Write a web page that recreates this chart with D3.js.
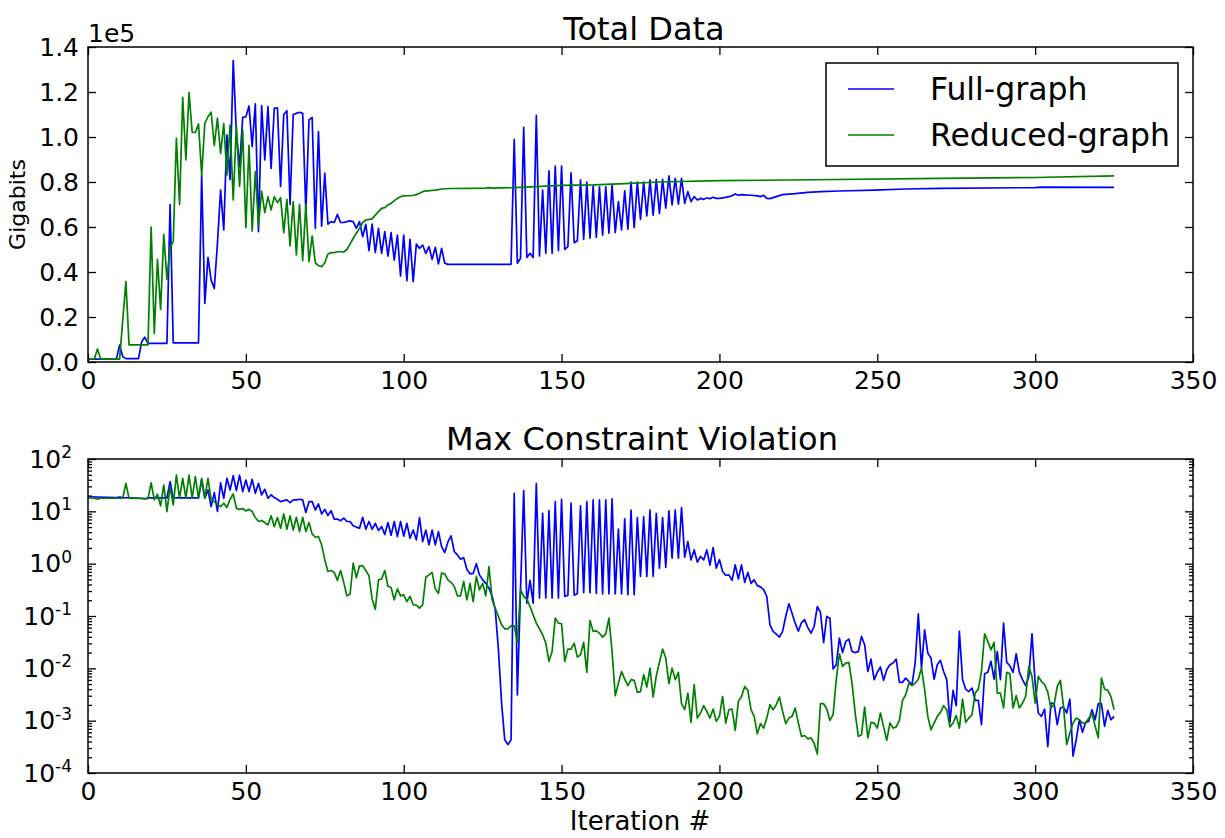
<!DOCTYPE html>
<html>
<head>
<meta charset="utf-8">
<script src="https://cdn.jsdelivr.net/npm/d3@7"></script>
<style>
  html, body { margin: 0; padding: 0; background: #fff; }
  svg { display: block; }
  text { font-family: "DejaVu Sans", sans-serif; fill: #000; }
</style>
</head>
<body>
<svg id="chart" width="1225" height="838"></svg>
<script>
// ---------------- DATA ----------------
const seriesNames = ["Full-graph", "Reduced-graph"];
const seriesColors = ["#0000ff", "#008000"];
const xTicks = [0, 50, 100, 150, 200, 250, 300, 350];
const totalTicks = [0, 20000, 40000, 60000, 80000, 100000, 120000, 140000];
const violationTicks = [1e-4, 1e-3, 1e-2, 1e-1, 1e0, 1e1, 1e2];

// Total Data (Gigabits) : [iteration, value]
const fullTotal = [[0,1300],[9,1300],[10,7500],[11,2400],[12,1500],[16,1500],[17,9000],[18,11000],[19,8300],[25,8300],[26,70000],[27,8500],[35,8500],[36,83000],[37,26000],[38,46500],[39,36400],[40,32700],[41,52700],[42,76400],[43,58700],[44,100900],[45,81000],[46,134000],[47,101600],[48,86800],[49,108700],[50,109000],[51,113800],[52,95700],[53,114700],[54,57900],[55,114000],[56,89800],[57,113500],[58,86000],[59,112700],[60,113000],[61,78000],[62,110000],[63,111700],[64,70000],[65,110000],[66,110500],[67,111000],[68,110500],[69,66800],[70,107600],[71,108700],[72,59400],[73,102400],[74,60400],[75,83900],[76,61300],[77,62400],[78,62000],[79,65600],[80,62000],[81,62000],[82,62400],[83,62700],[84,62400],[85,59400],[86,62400],[87,55700],[88,61200],[89,49500],[90,61300],[91,48600],[92,59400],[93,48300],[94,57900],[95,47100],[96,57500],[97,45300],[98,56400],[99,38200],[100,56400],[101,36100],[102,54500],[103,35700],[104,52400],[105,50500],[106,52000],[107,48300],[108,51300],[109,45600],[110,51000],[111,43600],[112,50500],[113,43900],[114,43400],[134,43400],[135,99000],[136,43900],[137,46100],[138,104300],[139,46500],[140,48300],[141,46500],[142,109600],[143,47100],[144,76400],[145,48300],[146,85000],[147,48300],[148,87100],[149,49500],[150,87100],[151,50000],[152,51300],[153,84100],[154,53000],[155,53900],[156,80900],[157,54500],[158,80000],[159,55000],[160,78200],[161,55400],[162,77900],[163,56400],[164,77900],[165,57200],[166,78700],[167,57500],[168,71300],[169,58700],[170,76100],[171,59000],[172,80000],[173,59700],[174,80000],[175,63400],[176,80000],[177,64900],[178,80900],[179,65300],[180,81200],[181,66000],[182,81200],[183,68400],[184,82700],[185,69800],[186,81600],[187,70200],[188,81600],[189,70500],[190,75700],[191,71300],[192,73500],[193,72000],[194,72700],[195,72300],[196,72900],[197,72600],[198,73200],[199,72700],[200,72700],[202,73200],[203,73500],[204,73900],[205,74700],[206,74100],[207,74400],[210,74100],[212,73800],[213,73500],[214,74100],[215,72700],[216,72600],[218,73500],[220,74400],[224,74800],[228,75400],[232,75700],[238,76000],[249,76400],[259,76900],[270,77200],[300,77500],[302,77700],[325,77600]];

const reducedTotal = [[0,1300],[2,1300],[3,5800],[4,1300],[10,1300],[12,35700],[13,7600],[19,7600],[20,60000],[21,12700],[22,45600],[23,23400],[24,56700],[25,36700],[26,51000],[27,53500],[28,99400],[29,70000],[30,117600],[31,89800],[32,119700],[33,102000],[34,102000],[35,105800],[36,83000],[37,106000],[38,109000],[39,111000],[40,96300],[41,108400],[42,92700],[43,106000],[44,83000],[45,105300],[46,72000],[47,105000],[48,78000],[49,103000],[50,59700],[51,96300],[52,58200],[53,84600],[54,60800],[55,76000],[56,66400],[57,73500],[58,67600],[59,73500],[60,70800],[61,73000],[62,57500],[63,72300],[64,51600],[65,71300],[66,47600],[67,70000],[68,45000],[69,70000],[70,44600],[71,56000],[72,44100],[73,42800],[74,42400],[75,44100],[76,48000],[77,48600],[78,48600],[79,49000],[80,49000],[81,48900],[82,50000],[83,52400],[84,55000],[85,57200],[86,59400],[87,62000],[88,63100],[89,63400],[90,63600],[91,65300],[92,66800],[93,68300],[94,68600],[95,69800],[96,70500],[97,71700],[98,72700],[99,73500],[100,73800],[101,73900],[102,73900],[103,74100],[104,74400],[105,75000],[106,75700],[107,76100],[108,76100],[109,76300],[110,76400],[111,76600],[112,76900],[115,77100],[121,77200],[126,77300],[127,77500],[128,77300],[135,77500],[150,78500],[160,78700],[170,79300],[181,80000],[200,80600],[230,81000],[270,81600],[300,82000],[325,82700]];

// Max Constraint Violation : [iteration, value]
const fullViolation = [[0,19],[9,18.3],[10,18.8],[11,18.3],[17,17.8],[18,17.3],[19,18],[25,18],[26,37],[27,18],[35,18],[36,39.7],[37,17.8],[38,25.6],[39,12.3],[40,22.8],[41,10],[42,35],[43,17.8],[44,42.8],[45,25.6],[46,48],[47,24.9],[48,49],[49,23.8],[50,39.7],[51,23.8],[52,40.9],[53,22.1],[54,34.3],[55,20.6],[56,26.4],[57,17.8],[58,20.6],[59,18.3],[60,17],[61,15.3],[62,16],[63,16.5],[64,14.7],[65,16.5],[66,16.5],[67,17],[68,16.5],[69,9.5],[70,15.3],[71,15.3],[72,10.6],[73,13.8],[74,8.9],[75,10.9],[76,8.3],[77,10.3],[78,7.1],[79,7.1],[80,6.6],[81,7.4],[82,6.4],[83,6.4],[84,5.3],[85,5.0],[86,4.75],[87,7.7],[88,4.55],[89,6.4],[90,4.55],[91,5.9],[92,4.3],[93,5.1],[94,3.6],[95,6.1],[96,3.5],[97,6.4],[98,3.3],[99,6.4],[100,3.35],[101,5.9],[102,3.06],[103,4.4],[104,2.85],[105,7.6],[106,2.64],[107,4.4],[108,2.28],[109,4.4],[110,2.28],[111,4.1],[112,2.12],[113,1.63],[114,2.6],[115,3.4],[116,1.71],[117,1.47],[118,1.22],[119,1.3],[120,0.78],[121,0.64],[122,0.65],[123,1.0],[124,0.61],[125,0.49],[126,0.42],[127,0.34],[128,0.24],[129,0.131],[130,0.0226],[131,0.00217],[132,0.00043],[133,0.00035],[134,0.00043],[135,22],[136,0.0031],[137,0.32],[138,25],[139,0.176],[140,0.48],[141,0.176],[142,34],[143,0.22],[144,9.2],[145,0.22],[146,10.3],[147,0.22],[148,15.3],[149,0.22],[150,17],[151,0.236],[152,0.25],[153,14.3],[154,0.25],[155,0.27],[156,12.7],[157,0.28],[158,15.3],[159,0.28],[160,16.5],[161,0.27],[162,16.5],[163,0.265],[164,16.5],[165,0.265],[166,17.3],[167,0.265],[168,4.6],[169,0.265],[170,7.2],[171,0.254],[172,10.6],[173,0.254],[174,7.6],[175,0.57],[176,7.9],[177,0.57],[178,10.6],[179,0.57],[180,9.2],[181,0.82],[182,7.6],[183,0.85],[184,10.2],[185,1.27],[186,10.6],[187,1.27],[188,11.8],[189,1.33],[190,2.64],[191,1.18],[192,1.83],[193,1.07],[194,1.37],[195,1.18],[196,1.83],[197,0.94],[198,2.03],[199,0.82],[200,1.2],[201,0.71],[202,0.6],[203,0.61],[204,0.48],[205,0.95],[206,0.51],[207,0.95],[208,0.44],[209,0.68],[210,0.42],[211,0.49],[212,0.38],[213,0.36],[214,0.32],[215,0.236],[216,0.068],[217,0.051],[218,0.045],[219,0.0395],[220,0.051],[221,0.098],[222,0.171],[223,0.113],[224,0.073],[225,0.051],[226,0.075],[227,0.085],[228,0.06],[229,0.047],[230,0.063],[231,0.152],[232,0.117],[233,0.031],[234,0.098],[235,0.091],[236,0.0097],[237,0.0117],[238,0.0378],[239,0.02],[240,0.0327],[241,0.0362],[242,0.021],[243,0.02],[244,0.021],[245,0.0407],[246,0.0282],[247,0.0087],[248,0.015],[249,0.0061],[250,0.0084],[251,0.0106],[252,0.0059],[253,0.0094],[254,0.0117],[255,0.0126],[256,0.015],[257,0.0054],[258,0.0054],[259,0.0065],[260,0.0056],[261,0.0049],[262,0.0126],[263,0.11],[264,0.0101],[265,0.0545],[266,0.0195],[267,0.0157],[268,0.0062],[269,0.0117],[270,0.0142],[271,0.0087],[272,0.0061],[273,0.00093],[274,0.0038],[275,0.00193],[276,0.051],[277,0.0061],[278,0.004],[279,0.0036],[280,0.0042],[281,0.00244],[282,0.00244],[283,0.00084],[284,0.0079],[285,0.0084],[286,0.0136],[287,0.0062],[288,0.021],[289,0.0061],[290,0.073],[291,0.013],[292,0.0112],[293,0.0084],[294,0.019],[295,0.0084],[296,0.0061],[297,0.00466],[298,0.007],[299,0.0457],[300,0.0052],[301,0.0014],[302,0.00121],[303,0.00167],[304,0.00032],[305,0.00217],[306,0.00211],[307,0.00084],[308,0.00175],[309,0.00182],[310,0.0014],[311,0.00259],[312,0.00021],[313,0.00043],[314,0.00104],[315,0.0006],[316,0.00093],[317,0.00097],[318,0.00162],[319,0.00104],[320,0.00211],[321,0.00211],[322,0.00078],[323,0.00157],[324,0.00104],[325,0.00121]];

const reducedViolation = [[0,18.3],[2,17.8],[3,17],[4,17.8],[11,17.8],[12,34.3],[13,17.8],[19,17.5],[20,35],[21,16.5],[22,21.2],[23,12.7],[24,31.9],[25,9.9],[26,29.7],[27,13.3],[28,49],[29,17.8],[30,42.8],[31,17.8],[32,49],[33,17.8],[34,46],[35,17.8],[36,42.8],[37,17.8],[38,42.8],[39,16.5],[40,15.3],[41,13.6],[42,12.3],[43,14.3],[44,11.8],[45,17],[46,21.5],[47,11.4],[48,10.9],[49,11.3],[50,10.2],[51,10.9],[52,9.9],[53,7.6],[54,6.4],[55,6.7],[56,6.1],[57,5.5],[58,8.2],[59,5.1],[60,7.6],[61,4.75],[62,8.9],[63,4.55],[64,8.2],[65,4.4],[66,7.7],[67,4.1],[68,7.7],[69,4.1],[70,6.1],[71,3.7],[72,3.2],[73,3.3],[74,2.28],[75,1.18],[76,0.71],[77,0.74],[78,0.68],[79,0.48],[80,0.74],[81,0.44],[82,0.243],[83,0.26],[84,1.02],[85,0.54],[86,0.91],[87,0.91],[88,0.74],[89,0.585],[90,0.21],[91,0.135],[92,0.49],[93,0.51],[94,0.74],[95,0.37],[96,0.35],[97,0.204],[98,0.33],[99,0.243],[100,0.254],[101,0.189],[102,0.236],[103,0.164],[104,0.161],[105,0.141],[106,0.164],[107,0.55],[108,0.61],[109,0.68],[110,0.33],[111,0.27],[112,0.66],[113,0.64],[114,0.49],[115,0.44],[116,0.37],[117,0.243],[118,0.243],[119,0.46],[120,0.204],[121,0.42],[122,0.189],[123,0.57],[124,0.316],[125,0.42],[126,0.243],[127,0.88],[128,0.204],[129,0.141],[130,0.098],[131,0.068],[132,0.057],[133,0.057],[134,0.065],[135,0.065],[136,0.0313],[137,0.316],[138,0.236],[139,0.21],[140,0.152],[141,0.105],[142,0.073],[143,0.057],[144,0.0438],[145,0.0303],[146,0.0136],[147,0.021],[148,0.091],[149,0.073],[150,0.071],[151,0.0136],[152,0.0233],[153,0.0233],[154,0.0303],[155,0.0164],[156,0.0182],[157,0.0313],[158,0.0084],[159,0.082],[160,0.051],[161,0.052],[162,0.047],[163,0.0395],[164,0.0457],[165,0.091],[166,0.021],[167,0.003],[168,0.0052],[169,0.0087],[170,0.0062],[171,0.00466],[172,0.0061],[173,0.0059],[174,0.00347],[175,0.0036],[176,0.0076],[177,0.0044],[178,0.0101],[179,0.00283],[180,0.0072],[181,0.013],[182,0.0233],[183,0.0157],[184,0.0051],[185,0.0101],[186,0.0061],[187,0.0084],[188,0.00211],[189,0.00162],[190,0.00337],[191,0.00093],[192,0.0049],[193,0.00112],[194,0.0014],[195,0.00193],[196,0.00151],[197,0.00112],[198,0.00167],[199,0.00097],[200,0.00121],[201,0.0029],[202,0.0009],[203,0.00162],[204,0.00167],[205,0.00065],[206,0.00234],[207,0.0029],[208,0.0045],[209,0.0038],[210,0.00162],[211,0.00121],[212,0.00056],[213,0.00088],[214,0.00072],[215,0.00112],[216,0.00202],[217,0.00162],[218,0.00202],[219,0.00283],[220,0.00151],[221,0.00088],[222,0.00112],[223,0.00121],[224,0.00175],[225,0.0009],[226,0.0005],[227,0.00052],[228,0.00045],[229,0.00047],[230,0.00037],[231,0.00023],[232,0.00211],[233,0.00211],[234,0.00167],[235,0.00101],[236,0.0013],[237,0.0061],[238,0.019],[239,0.0109],[240,0.0126],[241,0.013],[242,0.0052],[243,0.0014],[244,0.0005],[245,0.00054],[246,0.00182],[247,0.00047],[248,0.00093],[249,0.0009],[250,0.00072],[251,0.0014],[252,0.00076],[253,0.00042],[254,0.0009],[255,0.00072],[256,0.00076],[257,0.00101],[258,0.00244],[259,0.00313],[260,0.0052],[261,0.00466],[262,0.0052],[263,0.0062],[264,0.0101],[265,0.0039],[266,0.00121],[267,0.00067],[268,0.0009],[269,0.00121],[270,0.00144],[271,0.00193],[272,0.00162],[273,0.00076],[274,0.0009],[275,0.00125],[276,0.00072],[277,0.00259],[278,0.00093],[279,0.00112],[280,0.0013],[281,0.00337],[282,0.004],[283,0.0087],[284,0.0457],[285,0.0327],[286,0.0226],[287,0.0313],[288,0.00337],[289,0.00337],[290,0.00175],[291,0.0084],[292,0.0079],[293,0.00175],[294,0.003],[295,0.00175],[296,0.00217],[297,0.0029],[298,0.0109],[299,0.007],[300,0.00217],[301,0.007],[302,0.0056],[303,0.0049],[304,0.0035],[305,0.00175],[306,0.00202],[307,0.0045],[308,0.0059],[309,0.00182],[310,0.00035],[311,0.00058],[312,0.0009],[313,0.00112],[314,0.00104],[315,0.0009],[316,0.0009],[317,0.00112],[318,0.0014],[319,0.00078],[320,0.00047],[321,0.0065],[322,0.004],[323,0.0038],[324,0.0029],[325,0.00162]];

// ---------------- DRAW ----------------
const svg = d3.select("#chart");
svg.append("rect").attr("width", 1225).attr("height", 838).attr("fill", "#fff");

const L = 88, R = 1193;
const top1 = 47, bot1 = 362;
const top2 = 459, bot2 = 773;
const TICK_FONT = 25;

const x = d3.scaleLinear().domain([0, 350]).range([L, R]);
const yTotal = d3.scaleLinear().domain([0, 140000]).range([bot1, top1]);
const yViol = d3.scaleLog().domain([1e-4, 1e2]).range([bot2, top2]);

function styleAxis(g, labels) {
  g.select(".domain").remove();
  g.selectAll(".tick line").attr("stroke", "#000").attr("stroke-width", 1.3);
  g.selectAll(".tick text").attr("font-size", TICK_FONT).attr("font-family", "DejaVu Sans").attr("fill", "#000");
  if (!labels) g.selectAll(".tick text").remove();
}

function xAxes(top, bot) {
  svg.append("g").attr("transform", `translate(0,${bot})`)
    .call(d3.axisBottom(x).tickValues(xTicks).tickSizeInner(-8).tickSizeOuter(0).tickPadding(9).tickFormat(d3.format("d")))
    .call(g => styleAxis(g, true));
  svg.append("g").attr("transform", `translate(0,${top})`)
    .call(d3.axisTop(x).tickValues(xTicks).tickSizeInner(-8).tickSizeOuter(0))
    .call(g => styleAxis(g, false));
}

// ---- Top panel ----
xAxes(top1, bot1);
svg.append("g").attr("transform", `translate(${L},0)`)
  .call(d3.axisLeft(yTotal).tickValues(totalTicks).tickSizeInner(-8).tickSizeOuter(0).tickPadding(9)
    .tickFormat(d => (d / 1e5).toFixed(1)))
  .call(g => styleAxis(g, true));
svg.append("g").attr("transform", `translate(${R},0)`)
  .call(d3.axisRight(yTotal).tickValues(totalTicks).tickSizeInner(-8).tickSizeOuter(0))
  .call(g => styleAxis(g, false));

const lineTotal = d3.line().x(d => x(d[0])).y(d => yTotal(d[1]));
[fullTotal, reducedTotal].forEach((s, i) => {
  svg.append("path").datum(s).attr("d", lineTotal)
    .attr("fill", "none").attr("stroke", seriesColors[i]).attr("stroke-width", 1.7)
    .attr("stroke-linejoin", "round");
});
svg.append("rect").attr("x", L).attr("y", top1).attr("width", R - L).attr("height", bot1 - top1)
  .attr("fill", "none").attr("stroke", "#000").attr("stroke-width", 1.5);

svg.append("text").attr("x", 644).attr("y", 40).attr("text-anchor", "middle")
  .attr("font-size", 32).text("Total Data");
svg.append("text").attr("x", L).attr("y", 42).attr("font-size", TICK_FONT).text("1e5");
svg.append("text").attr("transform", `translate(25,${(top1 + bot1) / 2}) rotate(-90)`)
  .attr("text-anchor", "middle").attr("font-size", 22).text("Gigabits");

// legend
const lg = svg.append("g");
lg.append("rect").attr("x", 826).attr("y", 63).attr("width", 352).attr("height", 103)
  .attr("fill", "#fff").attr("stroke", "#000").attr("stroke-width", 1.5);
seriesNames.forEach((n, i) => {
  const yy = 89 + i * 46;
  lg.append("line").attr("x1", 848).attr("x2", 894).attr("y1", yy).attr("y2", yy)
    .attr("stroke", seriesColors[i]).attr("stroke-width", 1.7);
  lg.append("text").attr("x", 930).attr("y", yy).attr("dy", "0.36em").attr("font-size", 31.5).text(n);
});

// ---- Bottom panel ----
xAxes(top2, bot2);
const minorTicks = [];
for (let e = -4; e < 2; e++) for (let m = 2; m <= 9; m++) minorTicks.push(m * Math.pow(10, e));

const leftAx = svg.append("g").attr("transform", `translate(${L},0)`)
  .call(d3.axisLeft(yViol).tickValues(violationTicks).tickSizeInner(-8).tickSizeOuter(0).tickPadding(16).tickFormat(""))
  .call(g => styleAxis(g, true));
leftAx.selectAll(".tick text").each(function(d) {
  const t = d3.select(this);
  t.text(null).attr("font-size", TICK_FONT);
  t.append("tspan").text("10");
  t.append("tspan").attr("font-size", 17).attr("dy", "-0.55em").text(Math.round(Math.log10(d)));
});
svg.append("g").attr("transform", `translate(${R},0)`)
  .call(d3.axisRight(yViol).tickValues(violationTicks).tickSizeInner(-8).tickSizeOuter(0))
  .call(g => styleAxis(g, false));
svg.append("g").attr("transform", `translate(${L},0)`)
  .call(d3.axisLeft(yViol).tickValues(minorTicks).tickSizeInner(-4).tickSizeOuter(0).tickFormat(""))
  .call(g => styleAxis(g, false));
svg.append("g").attr("transform", `translate(${R},0)`)
  .call(d3.axisRight(yViol).tickValues(minorTicks).tickSizeInner(-4).tickSizeOuter(0).tickFormat(""))
  .call(g => styleAxis(g, false));

const lineViol = d3.line().x(d => x(d[0])).y(d => yViol(d[1]));
[fullViolation, reducedViolation].forEach((s, i) => {
  svg.append("path").datum(s).attr("d", lineViol)
    .attr("fill", "none").attr("stroke", seriesColors[i]).attr("stroke-width", 1.7)
    .attr("stroke-linejoin", "round");
});
svg.append("rect").attr("x", L).attr("y", top2).attr("width", R - L).attr("height", bot2 - top2)
  .attr("fill", "none").attr("stroke", "#000").attr("stroke-width", 1.5);

svg.append("text").attr("x", 642).attr("y", 450).attr("text-anchor", "middle")
  .attr("font-size", 32).text("Max Constraint Violation");
svg.append("text").attr("x", 640).attr("y", 830).attr("text-anchor", "middle")
  .attr("font-size", 26).text("Iteration #");
</script>
</body>
</html>
